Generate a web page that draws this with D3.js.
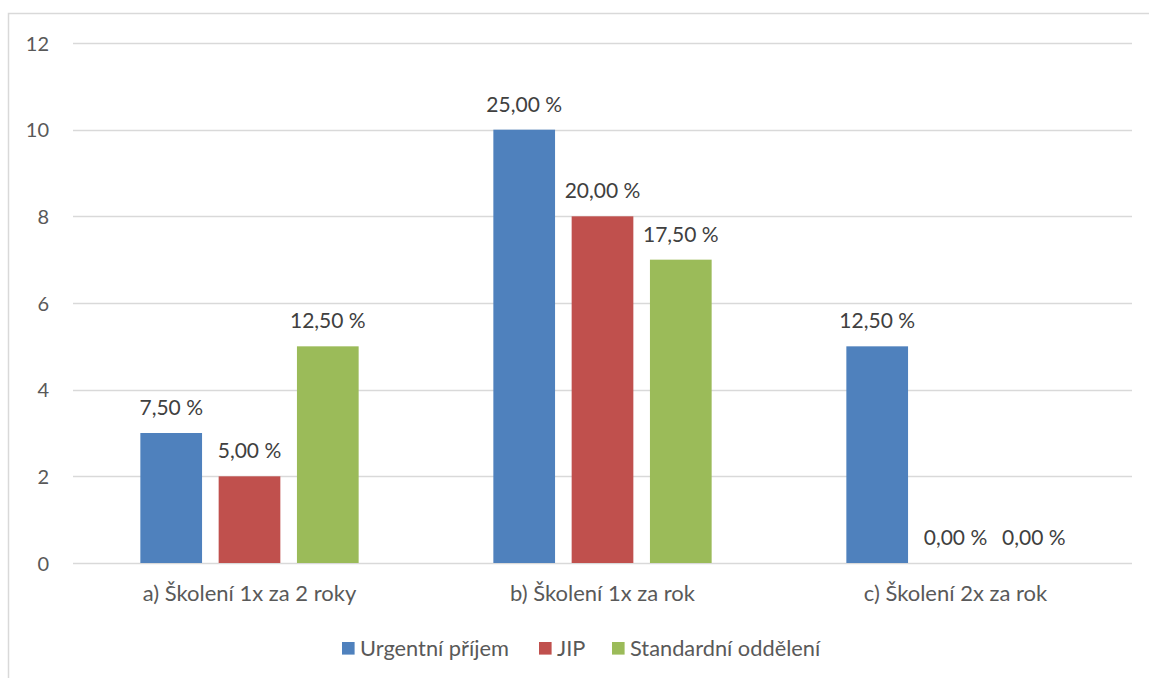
<!DOCTYPE html>
<html>
<head>
<meta charset="utf-8">
<script src="https://cdn.jsdelivr.net/npm/d3@7"></script>
<style>
  html, body { margin: 0; padding: 0; background: #fff; }
  svg { display: block; font-family: Lato, "Open Sans", sans-serif; }
</style>
</head>
<body>
<svg id="chart" width="1149" height="678"></svg>
<script>
// Training frequency by department (respondent counts, n = 40)
const categories = ["a) Školení 1x za 2 roky", "b) Školení 1x za rok", "c) Školení 2x za rok"];
const seriesNames = ["Urgentní příjem", "JIP", "Standardní oddělení"];
const urgentni = [3, 10, 5];
const jip = [2, 8, 0];
const standardni = [5, 7, 0];
const totalRespondents = 40;
const yTicks = [0, 2, 4, 6, 8, 10, 12];
const colors = ["#4F81BD", "#C0504D", "#9BBB59"];

const seriesValues = [urgentni, jip, standardni];
const rows = categories.map((c, i) => ({
  category: c,
  values: seriesNames.map((s, j) => ({ series: s, value: seriesValues[j][i], idx: j }))
}));

const svg = d3.select("#chart");
const textColor = "#595959";
const gridColor = "#D9D9D9";

// outer frame
svg.append("rect")
  .attr("x", 8.5).attr("y", 13.5)
  .attr("width", 1200).attr("height", 720)
  .attr("fill", "none").attr("stroke", gridColor).attr("stroke-width", 1.5);

const plotLeft = 73, plotRight = 1132, plotTop = 43, plotBottom = 563;

const y = d3.scaleLinear().domain([0, 12]).range([plotBottom, plotTop]);
const x0 = d3.scaleBand().domain(categories).range([plotLeft, plotRight])
  .paddingInner(0.3816).paddingOuter(0.1908);
const x1 = d3.scaleBand().domain(seriesNames).range([0, x0.bandwidth()])
  .paddingInner(0.212).paddingOuter(0);
const color = d3.scaleOrdinal().domain(seriesNames).range(colors);

// gridlines
svg.append("g").selectAll("line").data(yTicks).join("line")
  .attr("x1", plotLeft).attr("x2", plotRight)
  .attr("y1", d => Math.round(y(d)) + 0.5).attr("y2", d => Math.round(y(d)) + 0.5)
  .attr("stroke", gridColor).attr("stroke-width", 1.3);

// y axis labels
const yAxis = d3.axisLeft(y).tickValues(yTicks).tickSize(0).tickPadding(0);
const gy = svg.append("g").attr("transform", `translate(49,0)`).call(yAxis);
gy.select(".domain").remove();
gy.selectAll("text")
  .attr("font-family", "Lato, sans-serif").attr("font-size", 20)
  .attr("fill", textColor).attr("dy", "0.35em");

// bars
const groups = svg.append("g").selectAll("g").data(rows).join("g")
  .attr("transform", d => `translate(${x0(d.category)},0)`);

groups.selectAll("rect").data(d => d.values).join("rect")
  .attr("x", d => x1(d.series))
  .attr("width", x1.bandwidth())
  .attr("y", d => y(d.value))
  .attr("height", d => y(0) - y(d.value))
  .attr("fill", d => color(d.series));

// value labels as share of respondents
const fmtPct = v => d3.format(".2f")(v / totalRespondents * 100).replace(".", ",") + " %";
groups.selectAll("text").data(d => d.values).join("text")
  .attr("x", d => x1(d.series) + x1.bandwidth() / 2)
  .attr("y", d => y(d.value) - 18)
  .attr("text-anchor", "middle")
  .attr("font-size", 21)
  .attr("fill", "#404040")
  .text(d => fmtPct(d.value));

// category axis
const xAxis = d3.axisBottom(x0).tickSize(0).tickPadding(0);
const gx = svg.append("g").attr("transform", `translate(0,${plotBottom})`).call(xAxis);
gx.select(".domain").remove();
gx.selectAll("text")
  .attr("font-family", "Lato, sans-serif").attr("font-size", 22)
  .attr("fill", textColor).attr("y", 38).attr("dy", 0);

// legend
const legendItems = [
  { name: seriesNames[0], x: 342 },
  { name: seriesNames[1], x: 539 },
  { name: seriesNames[2], x: 612 }
];
const lg = svg.append("g").selectAll("g").data(legendItems).join("g")
  .attr("transform", d => `translate(${d.x},642)`);
lg.append("rect").attr("width", 12.6).attr("height", 12.6)
  .attr("fill", d => color(d.name));
lg.append("text").attr("x", 18).attr("y", 13.5)
  .attr("font-size", 21.8).attr("fill", textColor)
  .text(d => d.name);
</script>
</body>
</html>
